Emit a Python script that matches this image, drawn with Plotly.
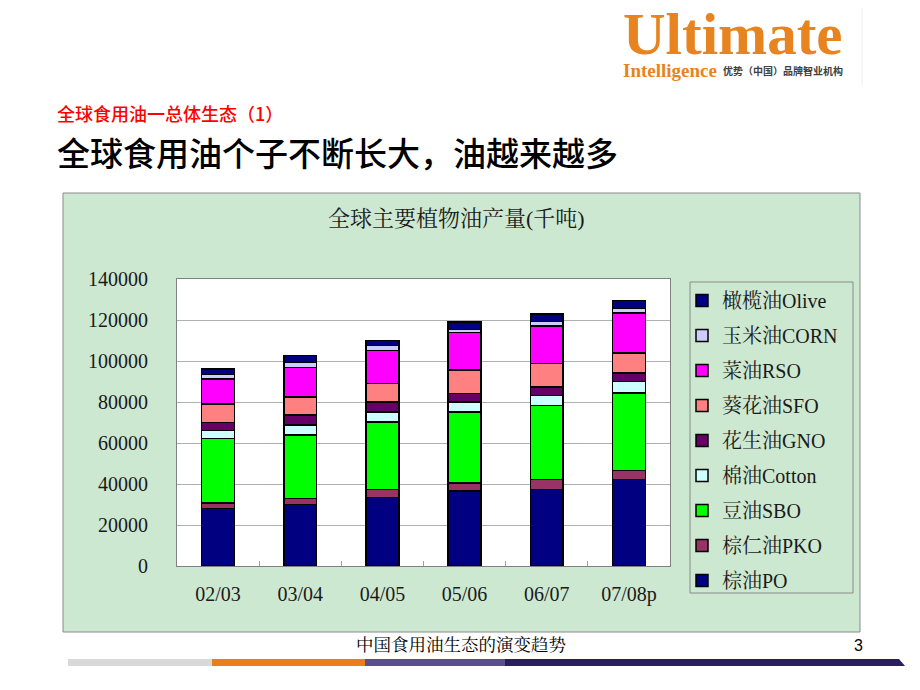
import plotly.graph_objects as go

# ---------------- data ----------------
categories = ["02/03", "03/04", "04/05", "05/06", "06/07", "07/08p"]
po     = [28000, 30100, 33400, 36600, 37400, 42100]
pko    = [2700, 2800, 3900, 3900, 4700, 4500]
sbo    = [31400, 30900, 33000, 34600, 36100, 37700]
cotton = [4000, 4900, 4900, 4900, 4900, 5800]
gno    = [4000, 4900, 4900, 4100, 4200, 4100]
sfo    = [9000, 8900, 9000, 11400, 11400, 9800]
rso    = [12000, 14300, 16100, 18400, 18300, 19500]
corn   = [2200, 2400, 2300, 1500, 2300, 2100]
olive  = [2900, 3600, 2600, 3600, 3600, 3800]

series_names = ["棕油PO", "棕仁油PKO", "豆油SBO", "棉油Cotton", "花生油GNO",
                "葵花油SFO", "菜油RSO", "玉米油CORN", "橄榄油Olive"]
series_values = [po, pko, sbo, cotton, gno, sfo, rso, corn, olive]
series_colors = ["#000080", "#993366", "#00FF00", "#CCFFFF", "#660066",
                 "#FF8080", "#FF00FF", "#CCCCFF", "#000080"]

y_ticks = [0, 20000, 40000, 60000, 80000, 100000, 120000, 140000]

# ---------------- geometry (screen pixels; page body has an 8px margin) ----------------
OFF = 8
SW, SH = 920, 690
L, R, T, B = 177, 670, 279, 566
PW, PH = R - L, B - T


def px(x):
    return (x - L) / PW


def py(y):
    return (B - y) / PH


SERIF = "Liberation Serif, Times New Roman, Noto Serif CJK SC, Noto Sans CJK SC, serif"
SANS = "Noto Sans CJK SC, Liberation Sans, sans-serif"

fig = go.Figure()
n = len(series_names)
for i, (name, vals, col) in enumerate(zip(series_names, series_values, series_colors)):
    fig.add_trace(go.Bar(
        x=categories, y=vals, name=name,
        marker=dict(color=col, line=dict(color="#000000", width=1.5)),
        width=0.4, legendgroup=f"g{i}", legendrank=100 * (n - i),
    ))

shapes = []
# slide frame line (right)
shapes.append(dict(type="line", xref="paper", yref="paper", x0=px(917.5), x1=px(917.5),
                   y0=py(0), y1=py(690), line=dict(color="#b4c4d6", width=2), layer="below"))
# faint logo-box edge
shapes.append(dict(type="line", xref="paper", yref="paper", x0=px(862), x1=px(862),
                   y0=py(86), y1=py(8), line=dict(color="#eeeeee", width=1), layer="below"))
# green chart box
shapes.append(dict(type="rect", xref="paper", yref="paper", x0=px(63), x1=px(860),
                   y0=py(632), y1=py(193), fillcolor="#CDE8D1",
                   line=dict(color="#8a8a8a", width=1), layer="below"))
# white plot area
shapes.append(dict(type="rect", xref="paper", yref="paper", x0=0, x1=1, y0=0, y1=1,
                   fillcolor="#FFFFFF", line=dict(width=0), layer="below"))
# legend box
shapes.append(dict(type="rect", xref="paper", yref="paper", x0=px(690), x1=px(853),
                   y0=py(593), y1=py(282), fillcolor="rgba(0,0,0,0)",
                   line=dict(color="#8a8a8a", width=1), layer="below"))
# footer bar
for x0, x1, col in [(68, 212, "#D9D9D9"), (212, 365, "#E87E1E"), (365, 505, "#5B4E8E")]:
    shapes.append(dict(type="rect", xref="paper", yref="paper", x0=px(x0), x1=px(x1),
                       y0=py(666), y1=py(659), fillcolor=col, line=dict(width=0), layer="below"))
shapes.append(dict(type="path", xref="paper", yref="paper",
                   path=f"M {px(505)} {py(659)} L {px(899)} {py(659)} L {px(905)} {py(666)} L {px(505)} {py(666)} Z",
                   fillcolor="#2B1E5E", line=dict(width=0), layer="below"))

annotations = [
    # logo
    dict(text="<b>Ultimate</b>", x=px(621), y=py(34), xanchor="left", yanchor="middle",
         font=dict(family=SERIF, size=59, color="#E8841F")),
    dict(text="<b>Intelligence</b>", x=px(621), y=py(70), xanchor="left", yanchor="middle",
         font=dict(family=SERIF, size=19, color="#E8841F")),
    dict(text="<b>优势（中国）品牌智业机构</b>", x=px(721), y=py(70), xanchor="left", yanchor="middle",
         font=dict(family=SANS, size=10, color="#404040")),
    # slide titles
    dict(text="全球食用油一总体生态（1）", x=px(55), y=py(113), xanchor="left", yanchor="middle",
         font=dict(family=SANS, size=18, color="#FF0000", weight=500)),
    dict(text="全球食用油个子不断长大，油越来越多", x=px(55), y=py(152), xanchor="left", yanchor="middle",
         font=dict(family=SANS, size=33, color="#000000", weight=500)),
    # chart title
    dict(text="全球主要植物油产量(千吨)", x=px(456), y=py(218), xanchor="center", yanchor="middle",
         font=dict(family=SERIF, size=22, color="#1a1a1a")),
    # footer
    dict(text="中国食用油生态的演变趋势", x=px(461), y=py(645), xanchor="center", yanchor="middle",
         font=dict(family=SERIF, size=17.5, color="#000000")),
    dict(text="3", x=px(858), y=py(645), xanchor="center", yanchor="middle",
         font=dict(family="Liberation Sans, Arial, sans-serif", size=16, color="#000000")),
]
for a in annotations:
    a.update(xref="paper", yref="paper", showarrow=False)

fig.update_layout(
    width=SW - OFF, height=SH - OFF,
    margin=dict(l=L - OFF, r=SW - R, t=T - OFF, b=SH - B, pad=0),
    paper_bgcolor="#FFFFFF",
    plot_bgcolor="rgba(0,0,0,0)",
    barmode="stack",
    bargap=0.6,
    showlegend=True,
    legend=dict(
        x=px(682), y=py(281), xanchor="left", yanchor="top",
        traceorder="grouped", tracegroupgap=6, maxheight=600,
        font=dict(family=SERIF, size=20, color="#1a1a1a"),
        bgcolor="rgba(0,0,0,0)", borderwidth=0,
    ),
    shapes=shapes,
    annotations=annotations,
    xaxis=dict(
        categoryorder="array", categoryarray=categories,
        showline=True, linecolor="#808080", linewidth=1, mirror=True,
        ticks="inside", tickson="boundaries", ticklen=5, tickcolor="#a0a0a0",
        ticklabelstandoff=10,
        tickfont=dict(family=SERIF, size=20, color="#1a1a1a"),
        showgrid=False,
    ),
    yaxis=dict(
        range=[0, 140000], tickvals=y_ticks, tickformat="d",
        showline=True, linecolor="#808080", linewidth=1, mirror=True,
        showgrid=True, gridcolor="#b0b0b0", gridwidth=1,
        ticks="", ticklabelstandoff=24,
        tickfont=dict(family=SERIF, size=20, color="#1a1a1a"),
        zeroline=False,
    ),
)

fig.write_html("out.html")
